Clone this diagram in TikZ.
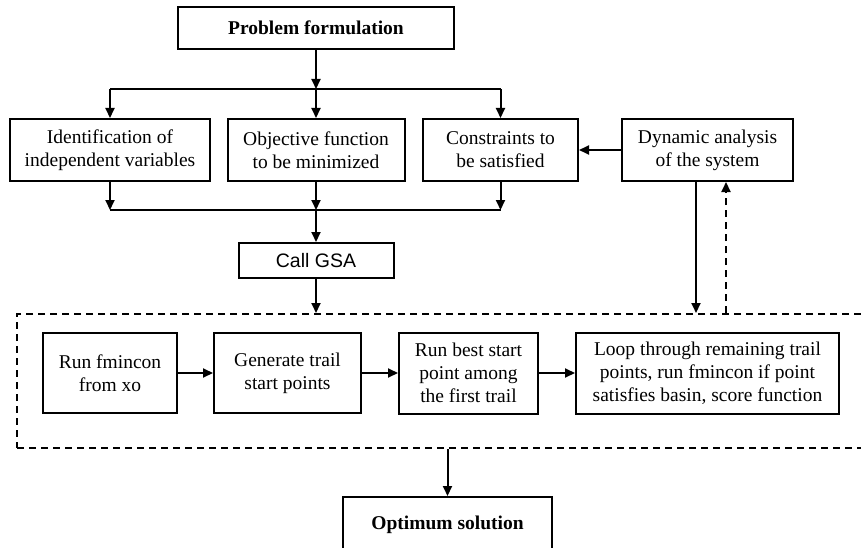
\documentclass[tikz,border=0pt]{standalone}
\usepackage{fontspec}
\setmainfont{Liberation Serif}
\setsansfont{Liberation Sans}
\usetikzlibrary{arrows.meta}

\tikzset{
  blk/.style={draw, line width=2pt, inner sep=0pt, align=center, font=\fontsize{19.5}{23}\selectfont},
  flow/.style={line width=2pt, -{Triangle[length=10pt,width=9pt]}},
  plain/.style={line width=2pt}
}

\begin{document}
\begin{tikzpicture}[x=1pt, y=-1pt]
				\useasboundingbox (0,0) rectangle (861,548);
				\path (316,28) node[blk, minimum width=276, minimum height=42, font=\fontsize{19.5}{23}\selectfont\bfseries] (prob){Problem formulation}
				(110,150) node[blk, minimum width=200, minimum height=62] (ident){Identification of\\independent variables}
				(316,150) node[blk, minimum width=177, minimum height=62] (obj){Objective function\\to be minimized}
				(500.5,150) node[blk, minimum width=155, minimum height=62] (cons){Constraints to\\be satisfied}
				(707.5,150) node[blk, minimum width=171, minimum height=62] (dyn){Dynamic analysis\\of the system}
				(316,260.5) node[blk, minimum width=155, minimum height=35, font=\fontsize{19.5}{23}\sffamily] (gsa){Call GSA}
				(443.5,381) node[draw, dashed, dash pattern=on 7pt off 5pt, line width=2pt, minimum width=853, minimum height=134] (frame){}
				(110,373) node[blk, minimum width=134, minimum height=80] (run){Run fmincon\\from xo}
				(287.5,373) node[blk, minimum width=147, minimum height=80] (gen){Generate trail\\start points}
				(468.5,373) node[blk, minimum width=139, minimum height=81] (best){Run best start\\point among\\the first trail}
				(707.5,373) node[blk, minimum width=263, minimum height=81] (loop){Loop through remaining trail\\points, run fmincon if point\\satisfies basin, score function}
				(447.5,525) node[blk, minimum width=209, minimum height=56, font=\fontsize{19.5}{23}\selectfont\bfseries] (opt){Optimum solution};
				
				\coordinate (split) at (316,89);
				\coordinate (join) at (316,210);
				
				% branching to the three inputs
				\draw[flow] (prob) -- (split);
				\draw[plain] (ident.north |- split) -- (cons.north |- split);
				\draw[flow] (ident.north |- split) -- (ident.north);
				\draw[flow] (split) -- (obj.north);
				\draw[flow] (cons.north |- split) -- (cons.north);
				\draw[flow] (dyn) -- (cons);
				
				% merging into GSA
				\draw[plain] (ident.south |- join) -- (cons.south |- join);
				\draw[flow] (ident.south) -- (ident.south |- join);
				\draw[flow] (obj.south) -- (join);
				\draw[flow] (cons.south) -- (cons.south |- join);
				\draw[flow] (join) -- (gsa.north);
				\draw[flow] (gsa.south) -- (gsa.south |- frame.north);
				
				\draw[flow] ([xshift=-11.5pt]dyn.south) -- ([xshift=-11.5pt]dyn.south |- frame.north);
				\draw[flow, dashed, dash pattern=on 7pt off 5pt] ([xshift=18.5pt]dyn.south |- frame.north) -- ([xshift=18.5pt]dyn.south);
				
				\draw[flow] (run) -- (gen);
				\draw[flow] (gen) -- (best);
				\draw[flow] (best) -- (loop);
				\draw[flow] (opt.north |- frame.south) -- (opt.north);
			\end{tikzpicture}
\end{document}
